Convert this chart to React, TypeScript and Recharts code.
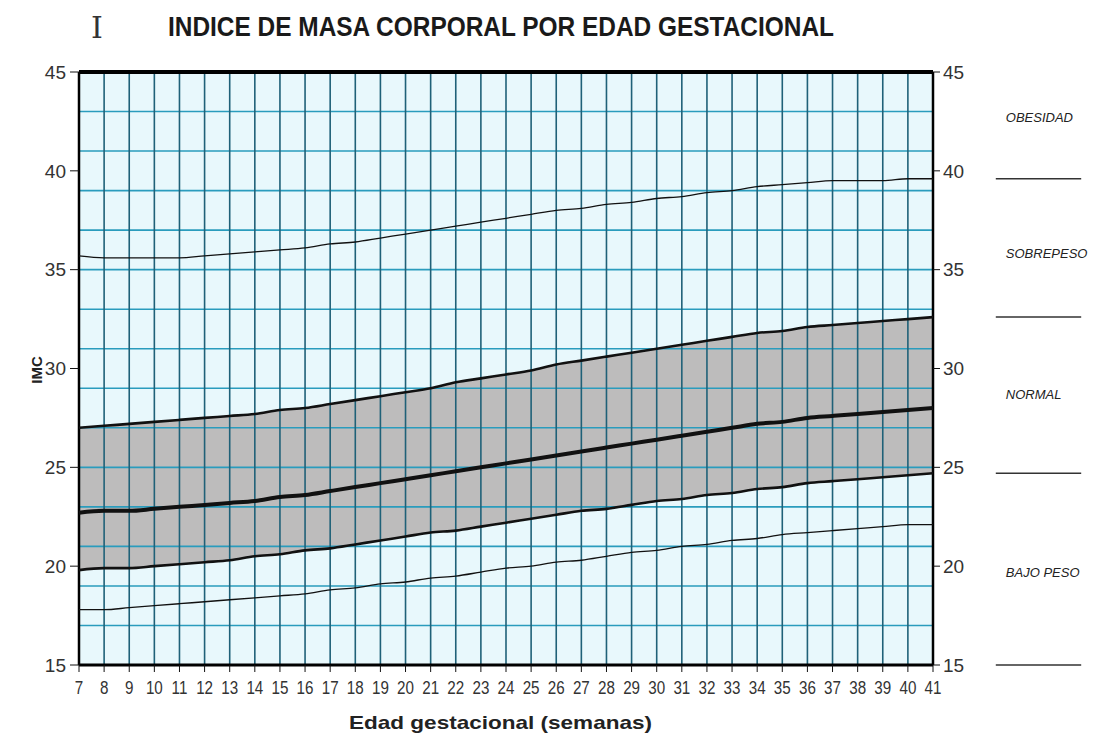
import { ComposedChart, Line, Area, XAxis, YAxis, CartesianGrid, ReferenceLine, ReferenceDot } from 'recharts';

// semanas de gestación
const weeks = [7, 8, 9, 10, 11, 12, 13, 14, 15, 16, 17, 18, 19, 20, 21, 22, 23, 24, 25, 26, 27, 28, 29, 30, 31, 32, 33, 34, 35, 36, 37, 38, 39, 40, 41];

// curvas de IMC
const obesityLine = [35.7, 35.6, 35.6, 35.6, 35.6, 35.7, 35.8, 35.9, 36.0, 36.1, 36.3, 36.4, 36.6, 36.8, 37.0, 37.2, 37.4, 37.6, 37.8, 38.0, 38.1, 38.3, 38.4, 38.6, 38.7, 38.9, 39.0, 39.2, 39.3, 39.4, 39.5, 39.5, 39.5, 39.6, 39.6];
const normalUpper = [27.0, 27.1, 27.2, 27.3, 27.4, 27.5, 27.6, 27.7, 27.9, 28.0, 28.2, 28.4, 28.6, 28.8, 29.0, 29.3, 29.5, 29.7, 29.9, 30.2, 30.4, 30.6, 30.8, 31.0, 31.2, 31.4, 31.6, 31.8, 31.9, 32.1, 32.2, 32.3, 32.4, 32.5, 32.6];
const median = [22.7, 22.8, 22.8, 22.9, 23.0, 23.1, 23.2, 23.3, 23.5, 23.6, 23.8, 24.0, 24.2, 24.4, 24.6, 24.8, 25.0, 25.2, 25.4, 25.6, 25.8, 26.0, 26.2, 26.4, 26.6, 26.8, 27.0, 27.2, 27.3, 27.5, 27.6, 27.7, 27.8, 27.9, 28.0];
const normalLower = [19.8, 19.9, 19.9, 20.0, 20.1, 20.2, 20.3, 20.5, 20.6, 20.8, 20.9, 21.1, 21.3, 21.5, 21.7, 21.8, 22.0, 22.2, 22.4, 22.6, 22.8, 22.9, 23.1, 23.3, 23.4, 23.6, 23.7, 23.9, 24.0, 24.2, 24.3, 24.4, 24.5, 24.6, 24.7];
const lowLine = [17.8, 17.8, 17.9, 18.0, 18.1, 18.2, 18.3, 18.4, 18.5, 18.6, 18.8, 18.9, 19.1, 19.2, 19.4, 19.5, 19.7, 19.9, 20.0, 20.2, 20.3, 20.5, 20.7, 20.8, 21.0, 21.1, 21.3, 21.4, 21.6, 21.7, 21.8, 21.9, 22.0, 22.1, 22.1];

const yTicks = [15, 20, 25, 30, 35, 40, 45];
const gridValues = Array.from({ length: 31 }, (_, i) => 15 + i);

// zonas a la derecha
const zoneNames = ['OBESIDAD', 'SOBREPESO', 'NORMAL', 'BAJO PESO'];
const zoneLabelValues = [42.7, 35.8, 28.7, 19.7];
const zoneBoundaries = [39.6, 32.6, 24.7, 15];

const rows = weeks.map((w, i) => ({
    week: w,
    obesity: obesityLine[i],
    upper: normalUpper[i],
    median: median[i],
    lower: normalLower[i],
    low: lowLine[i],
    band: [normalLower[i], normalUpper[i]],
}));

const font = '"Liberation Sans", Arial, sans-serif';

// narrow tick text, like the original's condensed font
const NarrowTick = (props: any) => {
    const { x, y, payload, anchor = 'middle', size = 19, dy = '0.71em' } = props;
    return (
        <text
            transform={`translate(${x},${y}) scale(0.8,1)`}
            textAnchor={anchor}
            dy={dy}
            fontFamily={font}
            fontSize={size}
            fill="#333"
        >
            {payload.value}
        </text>
    );
};

export default function App() {
    return (
        <div style={{ position: 'absolute', left: 0, top: 0, width: 1103, height: 738, background: '#fff', fontFamily: font }}>
            <ComposedChart width={1103} height={738} data={rows} margin={{ top: 72, right: 130, bottom: 43, left: 39 }}>
                <CartesianGrid yAxisId="left" horizontal={false} vertical={false} fill="#e8f8fc" />
                <XAxis
                    dataKey="week"
                    type="number"
                    domain={[7, 41]}
                    ticks={weeks}
                    interval={0}
                    height={30}
                    axisLine={{ stroke: '#000', strokeWidth: 3 }}
                    tickLine={{ stroke: '#111' }}
                    tickSize={7}
                    tickMargin={9}
                    tick={<NarrowTick />}
                />
                <YAxis
                    yAxisId="left"
                    domain={[15, 45]}
                    ticks={yTicks}
                    width={40}
                    axisLine={{ stroke: '#000', strokeWidth: 2.5 }}
                    tickLine={{ stroke: '#111' }}
                    tickSize={9}
                    tickMargin={4}
                    tick={{ fill: '#333', fontSize: 19, fontFamily: font }}
                />
                <YAxis
                    yAxisId="right"
                    orientation="right"
                    type="number"
                    domain={[15, 45]}
                    ticks={yTicks}
                    width={40}
                    axisLine={{ stroke: '#000', strokeWidth: 2.5 }}
                    tickLine={{ stroke: '#111' }}
                    tickSize={7}
                    tickMargin={3}
                    tick={{ fill: '#333', fontSize: 19, fontFamily: font }}
                />

                <Area yAxisId="left" type="monotone" dataKey="band" fill="#bdbcbc" fillOpacity={1} stroke="none" isAnimationActive={false} zIndex={100} />

                <CartesianGrid yAxisId="left" vertical={false} horizontalValues={gridValues} stroke="#2a9cbd" strokeWidth={1.6} zIndex={200} />
                <CartesianGrid yAxisId="left" horizontal={false} stroke="#1f6178" strokeWidth={1.6} zIndex={210} />

                <ReferenceLine yAxisId="left" y={45} stroke="#000" strokeWidth={4} zIndex={900} />

                {/* the right axis mirrors the left one; this invisible copy gives it its scale */}
                <Line yAxisId="right" type="monotone" dataKey="median" stroke="none" strokeWidth={0} dot={false} activeDot={false} legendType="none" isAnimationActive={false} />

                <Line yAxisId="left" type="monotone" dataKey="obesity" stroke="#111" strokeWidth={1.3} dot={false} isAnimationActive={false} zIndex={800} />
                <Line yAxisId="left" type="monotone" dataKey="upper" stroke="#111" strokeWidth={2.6} dot={false} isAnimationActive={false} zIndex={800} />
                <Line yAxisId="left" type="monotone" dataKey="median" stroke="#111" strokeWidth={4} dot={false} isAnimationActive={false} zIndex={800} />
                <Line yAxisId="left" type="monotone" dataKey="lower" stroke="#111" strokeWidth={2.6} dot={false} isAnimationActive={false} zIndex={800} />
                <Line yAxisId="left" type="monotone" dataKey="low" stroke="#111" strokeWidth={1.3} dot={false} isAnimationActive={false} zIndex={800} />

                {zoneBoundaries.map((v) => (
                    <ReferenceLine
                        key={v}
                        yAxisId="left"
                        segment={[{ x: 43.5, y: v }, { x: 46.9, y: v }]}
                        ifOverflow="visible"
                        stroke="#333"
                        strokeWidth={1.5}
                    />
                ))}
                {zoneNames.map((name, i) => (
                    <ReferenceDot
                        key={name}
                        yAxisId="left"
                        x={43.9}
                        y={zoneLabelValues[i]}
                        r={0}
                        ifOverflow="visible"
                        label={{ value: name, position: 'right', offset: 0, fill: '#222', fontSize: 13, fontStyle: 'italic', fontFamily: font }}
                    />
                ))}
            </ComposedChart>

            <svg width={1103} height={738} style={{ position: 'absolute', left: 0, top: 0, pointerEvents: 'none' }}>
                <text x={97} y={38} textAnchor="middle" fontFamily='"DejaVu Serif", serif' fontSize={30} fontWeight={200} fill="#333">I</text>
                <text x={168} y={36} fontFamily={font} fontWeight="bold" fontSize={27} fill="#1a1a1a" textLength={666} lengthAdjust="spacingAndGlyphs">
                    INDICE DE MASA CORPORAL POR EDAD GESTACIONAL
                </text>
                <text transform="translate(42 370) rotate(-90)" textAnchor="middle" fontFamily={font} fontWeight="bold" fontSize={15} fill="#222">IMC</text>
                <text x={349} y={729} fontFamily={font} fontWeight="bold" fontSize={19} fill="#222" textLength={303} lengthAdjust="spacingAndGlyphs">
                    Edad gestacional (semanas)
                </text>
            </svg>
        </div>
    );
}
